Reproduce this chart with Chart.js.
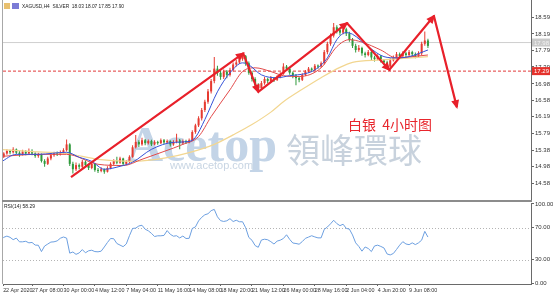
<!DOCTYPE html>
<html>
<head>
<meta charset="utf-8">
<script src="https://cdn.jsdelivr.net/npm/chart.js@4.4.0/dist/chart.umd.min.js"></script>
<style>
html, body { margin: 0; padding: 0; background: #fff; }
#wrap { position: relative; width: 553px; height: 295px; overflow: hidden; background: #fff; }
#main { position: absolute; left: 0; top: 0; }
#rsi { position: absolute; left: 0; top: 202px; }
.rule { position: absolute; background: #999; }
</style>
</head>
<body>
<div id="wrap">
  <canvas id="main" width="553" height="200"></canvas>
  <canvas id="rsi" width="553" height="93"></canvas>
  <div class="rule" style="left:2px;top:0;width:1px;height:284px;background:#a8a8a8"></div>
  <div class="rule" style="left:2px;top:200px;width:530px;height:2px;background:#8c8c8c"></div>
</div>
<script>
// XAGUSD H4 - une bougie par ligne : [open, high, low, close]
const candles = [
  [15.18,15.26,15.12,15.22],[15.22,15.33,15.19,15.30],[15.30,15.40,15.27,15.36],[15.36,15.39,15.28,15.33],
  [15.33,15.45,15.30,15.40],[15.40,15.42,15.28,15.32],[15.32,15.36,15.22,15.28],[15.28,15.39,15.25,15.35],
  [15.35,15.38,15.26,15.30],[15.30,15.42,15.28,15.36],[15.36,15.40,15.26,15.30],[15.30,15.33,15.20,15.24],
  [15.24,15.32,15.20,15.28],[15.28,15.30,15.08,15.12],[15.12,15.16,14.98,15.05],[15.05,15.22,15.02,15.18],
  [15.18,15.30,15.14,15.26],[15.26,15.34,15.22,15.30],[15.30,15.35,15.24,15.28],[15.28,15.37,15.25,15.33],
  [15.33,15.43,15.30,15.38],[15.38,15.64,15.35,15.52],[15.52,15.55,15.00,15.05],[15.05,15.10,14.82,14.92],
  [14.92,15.08,14.88,15.02],[15.02,15.06,14.92,14.98],[14.98,15.15,14.95,15.10],[15.10,15.13,14.98,15.02],
  [15.02,15.05,14.90,14.95],[14.95,15.09,14.92,15.05],[15.05,15.07,14.86,14.90],[14.90,14.95,14.83,14.88],
  [14.88,14.97,14.85,14.92],[14.92,14.94,14.81,14.86],[14.86,14.99,14.84,14.95],[14.95,15.09,14.92,15.05],
  [15.05,15.16,15.02,15.12],[15.12,15.22,15.04,15.08],[15.08,15.22,15.05,15.18],[15.18,15.20,15.01,15.05],
  [15.05,15.14,15.02,15.10],[15.10,15.26,15.07,15.22],[15.22,15.50,15.20,15.45],[15.45,15.75,15.42,15.58],
  [15.58,15.62,15.46,15.52],[15.52,15.68,15.49,15.62],[15.62,15.65,15.50,15.55],[15.55,15.64,15.52,15.60],
  [15.60,15.63,15.48,15.52],[15.52,15.62,15.50,15.58],[15.58,15.61,15.51,15.55],[15.55,15.66,15.53,15.62],
  [15.62,15.65,15.53,15.57],[15.57,15.64,15.54,15.60],[15.60,15.62,15.47,15.52],[15.52,15.62,15.49,15.58],
  [15.58,15.78,15.55,15.62],[15.62,15.65,15.40,15.55],[15.55,15.64,15.52,15.60],[15.60,15.63,15.53,15.57],
  [15.57,15.66,15.55,15.62],[15.62,15.86,15.60,15.82],[15.82,16.02,15.78,15.98],[15.98,16.20,15.94,16.15],
  [16.15,16.40,16.10,16.35],[16.35,16.60,16.30,16.55],[16.55,16.86,16.50,16.80],[16.80,17.10,16.75,17.05],
  [17.05,17.63,17.00,17.35],[17.35,17.42,17.18,17.25],[17.25,17.30,17.08,17.15],[17.15,17.33,17.10,17.28],
  [17.28,17.32,17.12,17.20],[17.20,17.37,17.16,17.32],[17.32,17.50,17.28,17.45],[17.45,17.56,17.40,17.50],
  [17.50,17.64,17.46,17.58],[17.58,17.72,17.54,17.65],[17.65,17.68,17.42,17.48],[17.48,17.52,17.20,17.25],
  [17.25,17.30,17.04,17.10],[17.10,17.14,16.90,16.95],[16.95,17.00,16.80,16.88],[16.88,17.05,16.85,17.00],
  [17.00,17.15,16.96,17.10],[17.10,17.13,17.00,17.05],[17.05,17.17,17.02,17.12],[17.12,17.15,17.03,17.08],
  [17.08,17.19,17.05,17.15],[17.15,17.26,17.12,17.22],[17.22,17.48,17.20,17.40],[17.40,17.44,17.30,17.35],
  [17.35,17.38,17.20,17.25],[17.25,17.28,17.12,17.18],[17.18,17.22,16.95,17.12],[17.12,17.15,17.02,17.08],
  [17.08,17.24,17.05,17.20],[17.20,17.32,17.17,17.28],[17.28,17.39,17.25,17.35],[17.35,17.38,17.27,17.32],
  [17.32,17.46,17.29,17.42],[17.42,17.45,17.35,17.40],[17.40,17.52,17.37,17.48],[17.48,17.80,17.45,17.75],
  [17.75,18.00,17.70,17.95],[17.95,18.20,17.90,18.15],[18.15,18.45,18.10,18.35],[18.35,18.40,18.20,18.28],
  [18.28,18.33,18.15,18.22],[18.22,18.38,18.18,18.30],[18.30,18.34,18.14,18.20],[18.20,18.24,18.00,18.05],
  [18.05,18.09,17.85,17.90],[17.90,17.95,17.74,17.80],[17.80,17.92,17.76,17.85],[17.85,17.88,17.66,17.72],
  [17.72,17.76,17.62,17.68],[17.68,17.80,17.65,17.75],[17.75,17.78,17.56,17.62],[17.62,17.66,17.52,17.58],
  [17.58,17.70,17.55,17.65],[17.65,17.68,17.50,17.55],[17.55,17.58,17.44,17.50],[17.50,17.54,17.34,17.40],
  [17.40,17.60,17.38,17.55],[17.55,17.67,17.52,17.62],[17.62,17.75,17.58,17.70],[17.70,17.74,17.60,17.65],
  [17.65,17.77,17.62,17.72],[17.72,17.76,17.63,17.68],[17.68,17.80,17.65,17.75],[17.75,17.78,17.64,17.70],
  [17.70,17.74,17.60,17.65],[17.65,17.77,17.62,17.72],[17.72,18.00,17.68,17.95],[17.95,18.25,17.90,18.03],
  [18.03,18.07,17.85,17.90]
];

// moyennes mobiles : [indice de bougie, valeur]
const maFast = [[0,15.09],[5,15.28],[12,15.28],[21,15.33],[25,15.21],[29,15.11],[33,14.92],[38,14.99],[42,15.09],
  [48,15.40],[55,15.57],[60,15.59],[62,15.69],[65,16.12],[69,16.79],[73,17.25],[77,17.49],[79,17.44],[83,17.20],
  [88,17.13],[92,17.18],[97,17.23],[100,17.32],[104,17.61],[107,18.05],[110,18.22],[112,18.18],[117,17.88],
  [122,17.64],[126,17.61],[130,17.64],[136,17.80]];
const maMid = [[0,15.23],[12,15.28],[21,15.28],[31,15.04],[39,15.01],[45,15.16],[52,15.35],[58,15.52],[63,15.71],
  [67,16.19],[73,16.84],[77,17.28],[81,17.37],[86,17.28],[90,17.18],[95,17.16],[102,17.37],[107,17.88],[111,18.05],
  [115,17.99],[121,17.80],[126,17.61],[131,17.64],[136,17.68]];
const maSlow = [[0,15.40],[9,15.35],[21,15.30],[31,15.16],[42,15.11],[53,15.20],[60,15.32],[68,15.52],[74,15.75],
  [80,16.00],[86,16.30],[90,16.55],[96,16.85],[102,17.13],[108,17.38],[112,17.50],[121,17.56],[127,17.59],[136,17.64]];

// RSI(14), une valeur par bougie
const rsi14 = [54,58,59.5,58,55,57,52.3,52.3,53,51, 51.5,48.2,48,40,47,49.5,52,52.3,53.5,56.8,
  58.4,57,38,39.5,36.5,38.3,42.5,38.5,41,41.7, 40,39.7,40.5,45.8,51.5,56.5,56.2,50.2,48.2,46.2,
  49.6,60,69.2,69.6,72.3,73.2,68.2,66.2,63,59, 59.9,59.9,60.4,66.5,61.8,59.4,60,57.2,59.6,56.5,
  56.7,69.2,71.1,78.7,83.2,86.4,87.7,91.6,93.2,83.9, 79,78,78.8,81.5,77.9,79.5,77.6,77.6,70,57.8,
  54.3,47.6,45.4,54.6,55.6,54.9,52.5,49.5,53.2,54.4, 56.5,61.2,55.4,50.8,50.2,49.3,52.6,56.7,58.3,60,
  58.5,57.3,57.3,68,71,75,79.5,75.3,72.7,74.5, 69.3,68.3,61,51,46.5,40.5,45.8,43.9,40,47.1,
  48.1,46.5,44.6,37,35.8,37.6,42.7,48.1,52.5,49.6, 48.7,51,48.8,51,54.4,65.5,58.29];

// fleches dessinees sur le graphique : [indice, prix]
const zigzag = [[22.4,14.73],[77.2,17.72],[82.0,16.79],[110.2,18.45],[123.7,17.32],[137.9,18.62],[145.2,16.42]];

const timeLabels = ['22 Apr 2020','27 Apr 08:00','30 Apr 00:00','4 May 12:00','7 May 04:00','11 May 16:00',
  '14 May 08:00','18 May 20:00','21 May 12:00','26 May 00:00','28 May 16:00','2 Jun 04:00','4 Jun 20:00','9 Jun 08:00'];
const timeTickIdx = [0.8,10,20,30,40,50,60,70,80,90,100,110,120,130];
const priceTicks = [18.59,18.19,17.79,17.39,16.98,16.58,16.19,15.79,15.38,14.98,14.58];
const rsiTicks = [100,70,30,0];
const rsiLevels = [70,30];
const levelPrice = 17.29;
const bidPrice = 17.98;
const titleText = 'XAGUSD,H4  SILVER  18.03 18.07 17.85 17.90';
const rsiTitle = 'RSI(14) 58.29';

const X_MIN = 0.76, X_MAX = 168.8;
const upColor = '#e63a30', downColor = '#2e9a3b';
Chart.defaults.font.family = '"Liberation Sans", Arial, sans-serif';

function fixAxis(size, horizontal) {
    return function (s) {
        if (horizontal) s.height = size; else s.width = size;
        s.paddingTop = s.paddingBottom = s.paddingLeft = s.paddingRight = 0;
    };
}
function candleColor(ctx) {
    const c = candles[ctx.dataIndex];
    return c && c[3] >= c[0] ? upColor : downColor;
}
const pts = arr => arr.map(p => ({x: p[0], y: p[1]}));

// watermark derriere les bougies
const watermark = {
    id: 'watermark',
    beforeDatasetsDraw(chart) {
        const ctx = chart.ctx;
        ctx.save();
        ctx.textBaseline = 'alphabetic';
        ctx.fillStyle = '#c3d4e7';
        ctx.font = 'bold 50px "Liberation Serif"';
        ctx.fillText('Acetop', 127, 161);
        ctx.fillStyle = '#c8d5e3';
        ctx.font = '11px "Liberation Sans"';
        ctx.fillText('www.acetop.com', 170, 169);
        ctx.fillStyle = '#c8d2dd';
        ctx.font = '34px "Noto Sans CJK TC"';
        ctx.textBaseline = 'middle';
        ctx.fillText('領峰環球', 286, 150);
        ctx.restore();
    }
};

// pointes des fleches, texte rouge, titre et etiquettes de prix
const overlay = {
    id: 'overlay',
    afterDatasetsDraw(chart) {
        const ctx = chart.ctx;
        const meta = chart.getDatasetMeta(chart.data.datasets.findIndex(d => d.label === 'zigzag'));
        const p = meta.data;
        ctx.save();
        ctx.fillStyle = '#e8202a';
        for (let k = 1; k < p.length; k++) {
            const a = p[k - 1], b = p[k];
            const ang = Math.atan2(b.y - a.y, b.x - a.x);
            const c = Math.cos(ang), s = Math.sin(ang);
            ctx.beginPath();
            ctx.moveTo(b.x + 2 * c, b.y + 2 * s);
            ctx.lineTo(b.x - 7 * c + 4 * s, b.y - 7 * s - 4 * c);
            ctx.lineTo(b.x - 7 * c - 4 * s, b.y - 7 * s + 4 * c);
            ctx.closePath();
            ctx.fill();
        }
        ctx.fillStyle = '#e8262d';
        ctx.font = '14px "Noto Sans CJK SC"';
        ctx.textBaseline = 'middle';
        ctx.fillText('白银  4小时图', 348, 125);
        ctx.restore();
    },
    afterDraw(chart) {
        const ctx = chart.ctx;
        const y = chart.scales.y;
        ctx.save();
        ctx.fillStyle = '#e8c070'; ctx.fillRect(4, 3, 6, 6);
        ctx.fillStyle = '#7b7bd6'; ctx.fillRect(12, 3, 7, 6);
        ctx.fillStyle = '#222';
        ctx.font = '6px "Liberation Sans"';
        ctx.textBaseline = 'middle';
        ctx.fillText(titleText, 22, 6.5, 102);
        const box = (v, bg, fg) => {
            const py = y.getPixelForValue(v);
            ctx.fillStyle = bg;
            ctx.fillRect(532, py - 4, 18, 8);
            ctx.fillStyle = fg;
            ctx.fillText(v.toFixed(2), 534, py + 0.5);
        };
        box(levelPrice, '#e4312b', '#fff');
        box(bidPrice, '#c9c9c9', '#f2f2f2');
        ctx.restore();
    }
};

const mainChart = new Chart(document.getElementById('main'), {
    type: 'bar',
    data: {
        datasets: [
            { type: 'line', label: 'level', data: [{x: X_MIN, y: levelPrice}, {x: X_MAX, y: levelPrice}],
              borderColor: '#e23a3a', borderWidth: 1, borderDash: [3, 2], pointRadius: 0, order: 10 },
            { type: 'line', label: 'bid', data: [{x: X_MIN, y: bidPrice}, {x: X_MAX, y: bidPrice}],
              borderColor: '#cfcfcf', borderWidth: 1, pointRadius: 0, order: 9 },
            { label: 'wick', data: candles.map((c, i) => ({x: i, y: [c[2], c[1]]})),
              backgroundColor: candleColor, grouped: false, maxBarThickness: 1, order: 6 },
            { label: 'body', data: candles.map((c, i) => ({x: i, y: [c[0], c[3]]})),
              backgroundColor: candleColor, grouped: false, maxBarThickness: 2, minBarLength: 1, order: 5 },
            { type: 'line', label: 'maSlow', data: pts(maSlow), borderColor: '#f2d690', borderWidth: 1.2,
              pointRadius: 0, cubicInterpolationMode: 'monotone', order: 4 },
            { type: 'line', label: 'maMid', data: pts(maMid), borderColor: '#e24a4a', borderWidth: 1,
              pointRadius: 0, cubicInterpolationMode: 'monotone', order: 3 },
            { type: 'line', label: 'maFast', data: pts(maFast), borderColor: '#3552d8', borderWidth: 1,
              pointRadius: 0, cubicInterpolationMode: 'monotone', order: 2 },
            { type: 'line', label: 'zigzag', data: pts(zigzag), borderColor: '#e8202a', borderWidth: 2.2,
              pointRadius: 0, tension: 0, borderJoinStyle: 'round', order: 0 }
        ]
    },
    options: {
        responsive: false, animation: false, devicePixelRatio: 1, events: [],
        layout: { padding: { left: 3, top: 0, right: 0, bottom: 0 } },
        plugins: { legend: { display: false }, tooltip: { enabled: false } },
        scales: {
            x: { type: 'linear', min: X_MIN, max: X_MAX, display: false, offset: false },
            y: {
                position: 'right', min: 14.177, max: 19.008,
                afterFit: fixAxis(22, false),
                afterBuildTicks: s => { s.ticks = priceTicks.map(v => ({value: v})); },
                ticks: { font: {size: 6}, color: '#333', padding: 1, autoSkip: false, callback: v => v.toFixed(2) },
                grid: { drawOnChartArea: false, drawTicks: true, tickLength: 3, tickColor: '#666' },
                border: { display: true, color: '#6a6a6a' }
            }
        }
    },
    plugins: [watermark, overlay]
});

// niveaux 70 / 30 en pointille et titre du RSI
const rsiDecor = {
    id: 'rsiDecor',
    beforeDatasetsDraw(chart) {
        const ctx = chart.ctx, a = chart.chartArea, y = chart.scales.y;
        ctx.save();
        ctx.strokeStyle = '#b4b4b4';
        ctx.lineWidth = 1;
        ctx.setLineDash([1, 2]);
        rsiLevels.forEach(v => {
            const py = Math.round(y.getPixelForValue(v)) + 0.5;
            ctx.beginPath(); ctx.moveTo(a.left, py); ctx.lineTo(a.right, py); ctx.stroke();
        });
        ctx.restore();
    },
    afterDraw(chart) {
        const ctx = chart.ctx;
        ctx.save();
        ctx.fillStyle = '#222';
        ctx.font = '6px "Liberation Sans"';
        ctx.textBaseline = 'middle';
        ctx.fillText(rsiTitle, 4, 4.5, 31);
        ctx.restore();
    }
};

const rsiChart = new Chart(document.getElementById('rsi'), {
    type: 'line',
    data: {
        datasets: [{ data: rsi14.map((v, i) => ({x: i, y: v})), borderColor: '#6c9fe0', borderWidth: 1,
                     pointRadius: 0, tension: 0 }]
    },
    options: {
        responsive: false, animation: false, devicePixelRatio: 1, events: [],
        layout: { padding: { left: 3, top: 1, right: 0, bottom: 0 } },
        plugins: { legend: { display: false }, tooltip: { enabled: false } },
        scales: {
            x: {
                type: 'linear', min: X_MIN, max: X_MAX, offset: false,
                afterFit: fixAxis(11, true),
                afterBuildTicks: s => { s.ticks = timeTickIdx.map(v => ({value: v})); },
                ticks: { font: {size: 5.4}, color: '#333', padding: 1, align: 'start', maxRotation: 0, autoSkip: false,
                         callback: (v, i) => timeLabels[i] },
                grid: { drawOnChartArea: false, drawTicks: true, tickLength: 2, tickColor: '#666' },
                border: { display: true, color: '#6a6a6a' }
            },
            y: {
                position: 'right', min: -0.88, max: 101.26,
                afterFit: fixAxis(22, false),
                afterBuildTicks: s => { s.ticks = rsiTicks.map(v => ({value: v})); },
                ticks: { font: {size: 6}, color: '#333', padding: 1, autoSkip: false, callback: v => v.toFixed(2) },
                grid: { drawOnChartArea: false, drawTicks: true, tickLength: 3, tickColor: '#666' },
                border: { display: true, color: '#6a6a6a' }
            }
        }
    },
    plugins: [rsiDecor]
});
</script>
</body>
</html>
